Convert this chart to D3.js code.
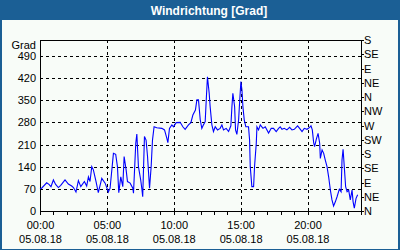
<!DOCTYPE html>
<html><head><meta charset="utf-8">
<script src="https://cdn.jsdelivr.net/npm/d3@7"></script>
<style>html,body{margin:0;padding:0;background:#fff;}svg{display:block;}</style>
</head><body>
<script>
const title = "Windrichtung [Grad]";
const yUnit = "Grad";
const dateLabel = "05.08.18";
const xTickHours = [0, 5, 10, 15, 20];
const xTickLabels = ["00:00", "05:00", "10:00", "15:00", "20:00"];
const yTicks = [0, 70, 140, 210, 280, 350, 420, 490];
const dirTicks = [0, 45, 90, 135, 180, 225, 270, 315, 360, 405, 450, 495, 540];
const dirLabels = ["N","NE","E","SE","S","SW","W","NW","N","NE","E","SE","S"];

const hours = [0.00,0.12,0.50,0.67,0.82,1.00,1.17,1.37,1.55,1.87,2.12,2.37,2.50,2.69,2.87,3.05,3.32,3.49,3.62,3.74,3.87,3.99,4.19,4.36,4.62,4.87,5.11,5.24,5.49,5.66,5.79,5.89,6.04,
6.19,6.29,6.44,6.54,6.74,6.94,6.99,7.16,7.24,7.36,7.53,7.61,7.68,7.81,7.93,8.04,8.19,8.31,8.41,8.53,8.73,9.11,9.31,9.48,9.56,9.68,9.86,9.98,10.18,10.48,10.68,10.85,11.10,11.28,11.43,11.62,11.73,11.85,11.98,12.10,12.22,
12.35,12.43,12.52,12.65,12.72,12.85,12.97,13.10,13.27,13.47,13.60,13.72,13.92,14.10,14.27,14.35,14.42,14.55,14.62,14.72,14.85,14.92,15.02,15.10,15.17,15.27,15.39,15.59,15.67,15.72,15.84,15.97,16.04,16.17,16.22,16.34,16.47,16.67,16.84,17.09,17.29,17.46,17.66,17.84,
17.96,18.09,18.26,18.46,18.66,18.84,19.01,19.26,19.41,19.59,19.76,19.96,20.16,20.26,20.36,20.46,20.53,20.66,20.79,20.91,20.96,21.09,21.21,21.33,21.46,21.58,21.71,21.83,21.95,22.08,22.21,22.38,22.51,22.58,22.66,22.75,22.85,22.96,23.08,23.20,23.33,23.41,23.50,23.63,23.75];
const windDir = [70,72,89,84,77,98,84,74,81,98,85,79,74,60,96,77,93,79,108,93,140,130,93,58,103,88,60,72,182,179,140,58,108,
77,172,130,93,88,72,56,214,243,140,98,72,45,235,224,172,72,140,224,266,263,261,256,230,216,261,272,266,279,280,266,258,272,279,303,319,351,351,288,261,272,
282,351,424,372,330,272,251,266,256,261,272,256,261,251,269,330,372,330,256,242,288,340,409,382,330,288,266,266,224,140,77,77,140,214,266,256,272,261,266,246,261,261,251,261,
266,258,261,256,264,256,258,269,261,251,261,258,264,269,256,216,203,227,245,214,166,193,182,161,140,108,66,35,16,29,45,69,61,161,195,140,77,61,66,35,66,29,9,40,51];

const W = 400, H = 250;
const svg = d3.select("body").append("svg").attr("width", W).attr("height", H)
  .style("font-family", "'Liberation Sans', Arial, sans-serif");

// frame
svg.append("rect").attr("x",0).attr("y",0).attr("width",W).attr("height",H).attr("fill","#1b5f95");
svg.append("rect").attr("x",2).attr("y",20).attr("width",W-4).attr("height",H-21).attr("fill","#f8fcf8");
svg.append("text").attr("x",209).attr("y",14.5).attr("text-anchor","middle")
  .attr("fill","#fff").attr("font-weight","bold").attr("font-size","12px").text(title);

const L = 40, R = 361, T = 40, B = 211;
const x = d3.scaleLinear().domain([0, 24]).range([L, R]);
const y = d3.scaleLinear().domain([0, 540]).range([B, T]);

const g = svg.append("g").attr("shape-rendering","crispEdges");
// grid
g.selectAll(".hg").data(yTicks.filter(v => v > 0)).join("line")
  .attr("x1", L).attr("x2", R).attr("y1", d => Math.round(y(d)) + 0.5).attr("y2", d => Math.round(y(d)) + 0.5)
  .attr("stroke","#000").attr("stroke-dasharray","3,3");
g.selectAll(".vg").data(xTickHours.filter(v => v > 0)).join("line")
  .attr("y1", T).attr("y2", B).attr("x1", d => Math.round(x(d)) + 0.5).attr("x2", d => Math.round(x(d)) + 0.5)
  .attr("stroke","#000").attr("stroke-dasharray","3,3");
// frame of plot
g.append("rect").attr("x", L + 0.5).attr("y", T + 0.5).attr("width", R - L).attr("height", B - T)
  .attr("fill","none").attr("stroke","#000");

// bottom hour ticks
g.selectAll(".ht").data(d3.range(0, 25)).join("line")
  .attr("x1", d => Math.round(x(d)) + 0.5).attr("x2", d => Math.round(x(d)) + 0.5)
  .attr("y1", B).attr("y2", B + 4).attr("stroke","#000");
// right ticks
g.selectAll(".rt").data(dirTicks).join("line")
  .attr("x1", R).attr("x2", R + 3).attr("y1", d => Math.round(y(d)) + 0.5).attr("y2", d => Math.round(y(d)) + 0.5)
  .attr("stroke","#000");

const fs = "11px";
svg.selectAll(".yl").data(yTicks).join("text")
  .attr("x", 36).attr("y", d => y(d) + 4).attr("text-anchor","end").attr("font-size", fs).attr("fill","#000")
  .text(d => d);
svg.append("text").attr("x", 36).attr("y", 49).attr("text-anchor","end").attr("font-size", fs).text(yUnit);
svg.selectAll(".rl").data(dirTicks).join("text")
  .attr("x", 364).attr("y", (d) => y(d) + 4).attr("font-size", fs).attr("fill","#000")
  .text((d, i) => dirLabels[i]);
svg.selectAll(".xl").data(xTickHours).join("text")
  .attr("x", d => x(d) + 0.5).attr("y", 229).attr("text-anchor","middle").attr("font-size", fs)
  .text((d, i) => xTickLabels[i]);
svg.selectAll(".xd").data(xTickHours).join("text")
  .attr("x", d => x(d) + 0.5).attr("y", 243).attr("text-anchor","middle").attr("font-size", fs)
  .text(dateLabel);

const data = hours.map((h, i) => ({h, v: windDir[i]}));
svg.append("path").datum(data)
  .attr("d", d3.line().x(d => x(d.h)).y(d => y(d.v)))
  .attr("fill","none").attr("stroke","#0000ff").attr("stroke-width", 1.1);
</script>
</body></html>
